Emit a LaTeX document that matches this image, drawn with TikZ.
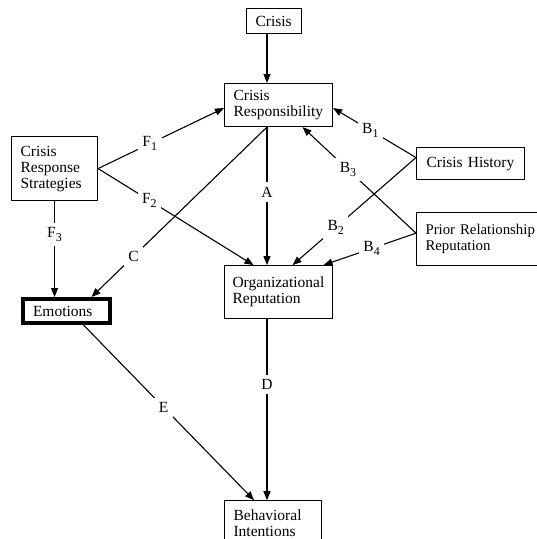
\documentclass[tikz,border=0pt]{standalone}
\usepackage{fontspec}
\setmainfont{Liberation Serif}
\usetikzlibrary{positioning}
\usetikzlibrary{calc}
\usetikzlibrary{arrows.meta}
\tikzset{>={Triangle[length=9pt,width=7pt]}}
\tikzset{box/.style={draw,line width=1.1pt,anchor=north west,align=left,inner xsep=9pt,inner ysep=0pt,font=\fontsize{15.5}{16}\selectfont}}
\tikzset{lbl/.style={fill=white,inner sep=4.5pt,font=\fontsize{15.5}{16}\selectfont}}
\tikzset{conn/.style={->,line width=1.1pt}}
\newcommand{\lsub}[1]{\raisebox{-4pt}{\fontsize{12}{12}\selectfont #1}}

\begin{document}
\begin{tikzpicture}[x=1pt,y=1pt]
        \useasboundingbox (0,0) rectangle (537,-539);
        \clip (0,0) rectangle (537,-539);

        \node[box,text width=37pt,minimum height=25pt] (crisis) at (246,-8) {Crisis};
        \node[box,text width=90pt,minimum height=43pt] (resp) at (224,-83) {Crisis\\Responsibility};
        \node[box,text width=68pt,minimum height=64pt] (crs) at (11,-136) {Crisis\\Response\\Strategies};
        \node[box,line width=4pt,inner xsep=10pt,text width=67pt,minimum height=24pt] (emo) at (21,-297) {Emotions};
        \node[box,inner xsep=8pt,text width=92pt,minimum height=53pt,below=138pt of resp.south west,anchor=north west] (org) {Organizational\\Reputation};
        \node[box,text width=79pt,minimum height=44pt,below=181pt of org.south west,anchor=north west] (bi) {Behavioral\\Intentions};
        \node[box,inner xsep=10pt,text width=88pt,minimum height=32pt] (ch) at (416,-147) {Crisis History};
        \node[box,inner xsep=9pt,text width=130pt,minimum height=53pt,font=\fontsize{14.8}{16}\selectfont,below=32pt of ch.south west,anchor=north west] (prr) {Prior Relationship\\Reputation};

        \coordinate (spine) at (267,0);

        \draw[conn] (crisis.south -| spine) -- (resp.north -| spine);
        \draw[conn] (resp.south -| spine) -- node[lbl,pos=0.47] (lA) {A} (org.north -| spine);
        \draw[conn] (org.south -| spine) -- node[lbl,pos=0.36] (lD) {D} (bi.north -| spine);

        \draw[conn] (crs.east) -- node[lbl,pos=0.41] (lF1) {F\lsub{1}} ($(resp.west)+(0,-3)$);
        \draw[conn] (crs.east) -- node[lbl,pos=0.33] (lF2) {F\lsub{2}} ($(org.north)+(-25,0)$);
        \draw[conn] (crs.south) -- node[lbl,pos=0.35] (lF3) {F\lsub{3}} (emo.north -| crs.south);

        \draw[conn] (resp.south -| spine) -- node[lbl,pos=0.76] (lC) {C} ($(emo.north)+(25,0)$);
        \draw[conn] ($(emo.south)+(17,0)$) -- node[lbl,pos=0.47] (lE) {E} ($(bi.north)+(-19,0)$);

        \draw[conn] ($(ch.west)+(0,6)$) -- node[lbl,pos=0.55] (lB1) {B\lsub{1}} ($(resp.east)+(0,-3)$);
        \draw[conn] ($(ch.west)+(0,6)$) -- node[lbl,pos=0.65] (lB2) {B\lsub{2}} ($(org.north)+(14,0)$);
        \draw[conn] ($(prr.west)+(0,6)$) -- node[lbl,pos=0.6] (lB3) {B\lsub{3}} ($(resp.south)+(24,0)$);
        \draw[conn] ($(prr.west)+(0,6)$) -- node[lbl,pos=0.48] (lB4) {B\lsub{4}} ($(org.north)+(45,0)$);

    \end{tikzpicture}
\end{document}
